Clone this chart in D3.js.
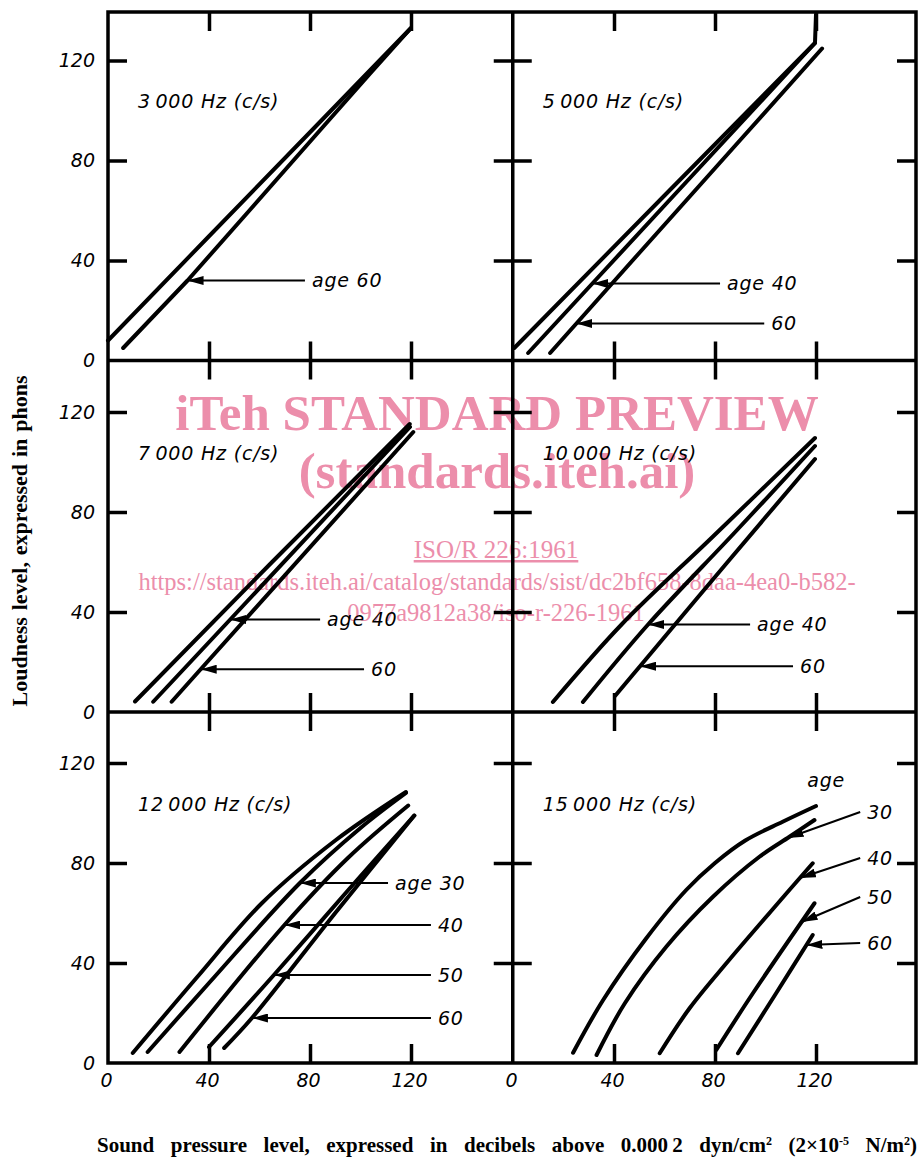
<!DOCTYPE html>
<html>
<head>
<meta charset="utf-8">
<title>Loudness level against sound pressure level, by age</title>
<script src="https://cdn.jsdelivr.net/npm/d3@7"></script>
<style>
  body { margin: 0; background: #fff; }
  #chart svg { display: block; }
  .grid { fill: none; stroke: #000; stroke-width: 3.5; stroke-linecap: square; }
  .tick line { stroke: #000; stroke-width: 3.5; }
  .curve { fill: none; stroke: #000; stroke-width: 4; stroke-linecap: round; stroke-linejoin: round; }
  .arrow { fill: none; stroke: #000; stroke-width: 2; }
  .sans { font-family: "DejaVu Sans", sans-serif; font-style: italic; fill: #000; }
  .lbl { font-size: 19px; letter-spacing: 0.8px; }
  .ticklbl { font-size: 19px; }
  .serif { font-family: "Liberation Serif", "Times New Roman", serif; font-weight: bold; fill: #000; font-size: 21px; }
  .wm { font-family: "Liberation Serif", "Times New Roman", serif; fill: #ec8eab; }
</style>
</head>
<body>
<div id="chart"></div>
<script>
// ---- data (dB SPL, phons) ----
const tickValues = [0, 40, 80, 120];
const innerTicks = [40, 80, 120];

const panelTitles = [
    "3\u2009000 Hz (c/s)", "5\u2009000 Hz (c/s)",
    "7\u2009000 Hz (c/s)", "10\u2009000 Hz (c/s)",
    "12\u2009000 Hz (c/s)", "15\u2009000 Hz (c/s)"
];

// first curve in each panel is the young (reference) ear, then by age
const hz3000 = [
    [[0, 8], [40, 49.7], [80, 91.3], [120, 133]],
    [[6, 5], [31.5, 32], [56, 60], [86.5, 95], [104, 115], [120, 133]]
];
const hz5000 = [
    [[0.5, 5], [60, 66], [119.6, 127], [120, 138.5]],
    [[6, 3], [35, 34.7], [70, 72.9], [119.6, 127]],
    [[14.7, 3], [50, 43], [90, 88.2], [122.4, 124.8]]
];
const hz7000 = [
    [[10.7, 4.2], [65, 60], [119.5, 115.2]],
    [[17.9, 4.1], [48.4, 37], [119.6, 114]],
    [[25.2, 4.1], [36.7, 17.1], [120.9, 112]]
];
const hz10000 = [
    [[15.8, 4], [43, 35], [79, 70], [119.6, 109.6]],
    [[27.7, 4], [53.5, 35], [88, 72], [119.6, 106.4]],
    [[40.4, 6.4], [50.3, 18.3], [85, 60], [119.6, 101.2]]
];
const hz12000 = [
    [[9.8, 4], [35, 34], [61, 64], [90, 89], [118, 108.4]],
    [[15.7, 4.4], [40, 32], [76, 72], [100, 94], [118, 108]],
    [[28.3, 4.4], [69.7, 55], [95, 82], [118.9, 103]],
    [[40, 6.4], [65.7, 35.2], [95, 69], [121.3, 99]],
    [[46, 6], [57, 18], [90, 60], [121.3, 99]]
];
const hz15000 = [
    [[23.8, 4.1], [35.7, 25.2], [52.8, 49.9], [68.6, 69.2], [80, 80], [92, 89], [106.8, 96.5], [120, 102.8]],
    [[33.1, 3.2], [44.3, 23.9], [60.7, 46.5], [79.2, 66.5], [97.6, 82.5], [109.5, 90.5], [119.4, 97.2]],
    [[58.1, 3.9], [70, 22], [85, 40.5], [102, 60.5], [118.7, 79.9]],
    [[80.5, 5.2], [95, 27.9], [119.4, 63.9]],
    [[89.1, 3.9], [104.2, 27.9], [118.7, 51.2]]
];

// age arrows: curve index, phon level where the arrow touches, tail end and label
const hz3000Arrows = [{ curve: 1, at: 32, tailX: 78, tailY: 32, text: "age 60" }];
const hz5000Arrows = [
    { curve: 1, at: 30.8, tailX: 82, tailY: 30.8, text: "age 40" },
    { curve: 2, at: 14.8, tailX: 99.5, tailY: 14.8, text: "60" }
];
const hz7000Arrows = [
    { curve: 1, at: 37, tailX: 84, tailY: 37, text: "age 40" },
    { curve: 2, at: 17.1, tailX: 101.4, tailY: 17.1, text: "60" }
];
const hz10000Arrows = [
    { curve: 1, at: 35, tailX: 93.9, tailY: 35, text: "age 40" },
    { curve: 2, at: 18.3, tailX: 110.9, tailY: 18.3, text: "60" }
];
const hz12000Arrows = [
    { curve: 1, at: 72, tailX: 110.9, tailY: 72, text: "age 30" },
    { curve: 2, at: 55.2, tailX: 127.9, tailY: 55.2, text: "40" },
    { curve: 3, at: 35.2, tailX: 127.9, tailY: 35.2, text: "50" },
    { curve: 4, at: 18, tailX: 127.9, tailY: 18, text: "60" }
];
const hz15000Arrows = [
    { curve: 1, at: 90, tailX: 137.5, tailY: 100.4, text: "30" },
    { curve: 2, at: 74, tailX: 137.5, tailY: 82, text: "40" },
    { curve: 3, at: 56.4, tailX: 137.5, tailY: 66.4, text: "50" },
    { curve: 4, at: 47.2, tailX: 137.5, tailY: 48, text: "60" }
];

const panels = [
    { title: panelTitles[0], curves: hz3000, arrows: hz3000Arrows, row: 0, col: 0, smooth: false },
    { title: panelTitles[1], curves: hz5000, arrows: hz5000Arrows, row: 0, col: 1, smooth: false },
    { title: panelTitles[2], curves: hz7000, arrows: hz7000Arrows, row: 1, col: 0, smooth: false },
    { title: panelTitles[3], curves: hz10000, arrows: hz10000Arrows, row: 1, col: 1, smooth: true },
    { title: panelTitles[4], curves: hz12000, arrows: hz12000Arrows, row: 2, col: 0, smooth: true },
    { title: panelTitles[5], curves: hz15000, arrows: hz15000Arrows, row: 2, col: 1, smooth: true, ageNote: [124, 113.2] }
];

// ---- layout ----
const width = 920, height = 1162;
const colZero = [108, 513], colEdge = [108, 512.75, 916];
const rowZero = [360.5, 712, 1063], rowEdge = [12, 360.5, 712, 1063];
const dbPx = 2.525, phonPx = 2.5, tickLen = 19;

const svg = d3.select("#chart").append("svg")
    .attr("width", width)
    .attr("height", height);

svg.append("defs").append("marker")
    .attr("id", "head")
    .attr("viewBox", "0 0 16 9")
    .attr("refX", 16).attr("refY", 4.5)
    .attr("markerWidth", 16).attr("markerHeight", 9)
    .attr("markerUnits", "userSpaceOnUse")
    .attr("orient", "auto")
    .append("path")
    .attr("d", "M0,0L16,4.5L0,9Z")
    .attr("fill", "#000");

// watermark of the scanned document
const wm = svg.append("g").attr("class", "wm").attr("text-anchor", "middle");
wm.append("text").attr("x", 497).attr("y", 430)
    .style("font-size", "51px").style("font-weight", "bold").text("iTeh STANDARD PREVIEW");
wm.append("text").attr("x", 497).attr("y", 488)
    .style("font-size", "51px").style("font-weight", "bold").text("(standards.iteh.ai)");
wm.append("text").attr("x", 496).attr("y", 558)
    .style("font-size", "25px").style("text-decoration", "underline").text("ISO/R 226:1961");
wm.append("text").attr("x", 497).attr("y", 590)
    .style("font-size", "24.5px").text("https://standards.iteh.ai/catalog/standards/sist/dc2bf658-8daa-4ea0-b582-");
wm.append("text").attr("x", 496).attr("y", 621)
    .style("font-size", "24.5px").text("0977a9812a38/iso-r-226-1961");

// frame grid
const grid = d3.path();
colEdge.forEach(function (cx) { grid.moveTo(cx, rowEdge[0]); grid.lineTo(cx, rowEdge[3]); });
rowEdge.forEach(function (ry) { grid.moveTo(colEdge[0], ry); grid.lineTo(colEdge[2], ry); });
svg.append("path").attr("class", "grid").attr("d", grid.toString());

// x of a curve at a given phon level
function xAt(points, level) {
    for (var i = 1; i < points.length; i++) {
        var a = points[i - 1], b = points[i];
        if ((a[1] - level) * (b[1] - level) <= 0 && a[1] !== b[1]) {
            return a[0] + (level - a[1]) / (b[1] - a[1]) * (b[0] - a[0]);
        }
    }
    return points[0][0];
}

function tidy(g) {
    g.select(".domain").remove();
    g.attr("font-family", null).attr("font-size", null);
}

panels.forEach(function (p) {
    const x = d3.scaleLinear().domain([0, 120])
        .range([colZero[p.col], colZero[p.col] + 120 * dbPx]);
    const y = d3.scaleLinear().domain([0, 120])
        .range([rowZero[p.row], rowZero[p.row] - 120 * phonPx]);
    const left = colEdge[p.col], right = colEdge[p.col + 1];
    const top = rowEdge[p.row], bottom = rowEdge[p.row + 1];

    const g = svg.append("g");

    // inward ticks on all four sides
    g.append("g").attr("transform", "translate(0," + bottom + ")")
        .call(d3.axisBottom(x).tickValues(innerTicks).tickSize(-tickLen).tickFormat("")).call(tidy);
    g.append("g").attr("transform", "translate(0," + top + ")")
        .call(d3.axisTop(x).tickValues(innerTicks).tickSize(-tickLen).tickFormat("")).call(tidy);
    g.append("g").attr("transform", "translate(" + left + ",0)")
        .call(d3.axisLeft(y).tickValues(innerTicks).tickSize(-tickLen).tickFormat("")).call(tidy);
    g.append("g").attr("transform", "translate(" + right + ",0)")
        .call(d3.axisRight(y).tickValues(innerTicks).tickSize(-tickLen).tickFormat("")).call(tidy);

    // tick labels on the outer sides only
    if (p.row === 2) {
        const ax = g.append("g").attr("transform", "translate(-2," + bottom + ")")
            .call(d3.axisBottom(x).tickValues(tickValues).tickSize(0).tickPadding(11)).call(tidy);
        ax.selectAll("text").attr("class", "sans ticklbl");
    }
    if (p.col === 0) {
        const ay = g.append("g").attr("transform", "translate(" + left + ",0)")
            .call(d3.axisLeft(y).tickValues(tickValues).tickSize(0).tickPadding(13)).call(tidy);
        ay.selectAll("text").attr("class", "sans ticklbl");
    }

    // curves
    const line = d3.line()
        .x(function (d) { return x(d[0]); })
        .y(function (d) { return y(d[1]); })
        .curve(p.smooth ? d3.curveCatmullRom.alpha(0.5) : d3.curveLinear);
    g.selectAll("path.curve")
        .data(p.curves)
        .enter()
        .append("path")
        .attr("class", "curve")
        .attr("d", line);

    // title
    g.append("text")
        .attr("class", "sans lbl")
        .attr("x", left + 30)
        .attr("y", bottom - 259)
        .attr("dy", "0.35em")
        .text(p.title);

    // age arrows
    const arrows = g.selectAll("g.arw").data(p.arrows).enter().append("g");
    arrows.append("line")
        .attr("class", "arrow")
        .attr("x1", function (d) { return x(d.tailX); })
        .attr("y1", function (d) { return y(d.tailY); })
        .attr("x2", function (d) { return x(xAt(p.curves[d.curve], d.at)); })
        .attr("y2", function (d) { return y(d.at); })
        .attr("marker-end", "url(#head)");
    arrows.append("text")
        .attr("class", "sans lbl")
        .attr("x", function (d) { return x(d.tailX) + 7; })
        .attr("y", function (d) { return y(d.tailY); })
        .attr("dy", "0.35em")
        .text(function (d) { return d.text; });

    if (p.ageNote) {
        g.append("text")
            .attr("class", "sans lbl")
            .attr("text-anchor", "middle")
            .attr("x", x(p.ageNote[0]))
            .attr("y", y(p.ageNote[1]))
            .attr("dy", "0.35em")
            .text("age");
    }
});

// axis titles, spread by word spacing to the width they take in the figure
function spread(t, target) {
    const spaces = (t.text().match(/ /g) || []).length;
    const natural = t.node().getComputedTextLength();
    if (spaces > 0) t.style("word-spacing", ((target - natural) / spaces) + "px");
}

const yTitle = svg.append("text")
    .attr("class", "serif")
    .style("font-size", "22px")
    .attr("text-anchor", "middle")
    .attr("transform", "translate(27,541) rotate(-90)")
    .text("Loudness level, expressed in phons");
spread(yTitle, 331);

const xTitle = svg.append("text")
    .attr("class", "serif")
    .attr("x", 97)
    .attr("y", 1152);
xTitle.append("tspan").text("Sound pressure level, expressed in decibels above 0.000\u20092 dyn/cm");
xTitle.append("tspan").attr("dy", -7).style("font-size", "12px").text("2");
xTitle.append("tspan").attr("dy", 7).text(" (2\u00d710");
xTitle.append("tspan").attr("dy", -7).style("font-size", "12px").text("-5");
xTitle.append("tspan").attr("dy", 7).text(" N/m");
xTitle.append("tspan").attr("dy", -7).style("font-size", "12px").text("2");
xTitle.append("tspan").attr("dy", 7).text(")");
spread(xTitle, 820);
</script>
</body>
</html>
